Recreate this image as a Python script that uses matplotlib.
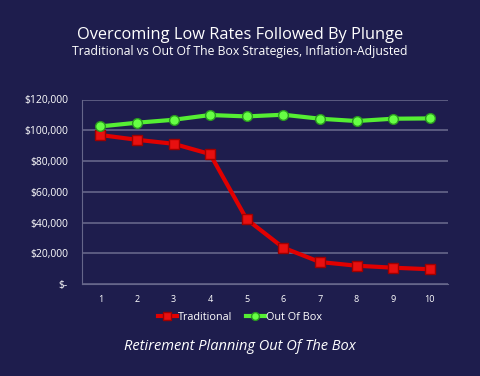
import matplotlib.pyplot as plt
from matplotlib.ticker import FuncFormatter

years = [1, 2, 3, 4, 5, 6, 7, 8, 9, 10]
traditional = [96900, 93800, 91200, 84500, 42100, 23600, 14300, 11900, 10600, 9600]
out_of_box = [102500, 104900, 106800, 109900, 109000, 110100, 107500, 106000, 107500, 107700]

bg = '#1e1d4d'
plt.rcParams['font.family'] = ['Open Sans', 'DejaVu Sans']

fig = plt.figure(figsize=(4.8, 3.76), dpi=100, facecolor=bg)
ax = fig.add_axes([82 / 480, 1 - 284 / 376, (448 - 82) / 480, (284 - 99.5) / 376])
ax.set_facecolor(bg)

ax.plot(years, traditional, color='#e00000', lw=3, marker='s', ms=7,
        mfc='#e81010', mec='#a00000', mew=1, label='Traditional', zorder=3)
ax.plot(years, out_of_box, color='#55ee33', lw=3, marker='o', ms=7,
        mfc='#66ff44', mec='#2a9a20', mew=1, label='Out Of Box', zorder=3)

ax.set_xlim(0.5, 10.5)
ax.set_ylim(0, 120000)
ax.set_xticks(years)
ax.set_yticks(range(0, 120001, 20000))
ax.yaxis.set_major_formatter(FuncFormatter(lambda v, p: '$-' if v == 0 else f'${v:,.0f}'))
ax.grid(axis='y', color='#66668a', lw=1.2)
ax.set_axisbelow(True)
for s in ['top', 'right']:
    ax.spines[s].set_visible(False)
ax.spines['bottom'].set_color('#66668a')
ax.spines['left'].set_color('#66668a')
ax.tick_params(length=0, colors='white')
ax.tick_params(axis='y', labelsize=7.5, pad=10)
ax.tick_params(axis='x', labelsize=6.5, pad=8)

# legend centred on the figure, not the axes
fig.legend(loc='center', bbox_to_anchor=(0.5, 1 - 317 / 376), ncol=2, frameon=False,
           fontsize=7.8, handlelength=1.8, handletextpad=0.1, columnspacing=1.2,
           labelcolor='white', markerscale=0.8)

fig.text(0.5, 1 - 35 / 376, 'Overcoming Low Rates Followed By Plunge', ha='center', va='center',
         color='white', fontsize=11.8)
fig.text(0.5, 1 - 52 / 376, 'Traditional vs Out Of The Box Strategies, Inflation-Adjusted',
         ha='center', va='center', color='white', fontsize=8.8)
fig.text(0.5, 1 - 347 / 376, 'Retirement Planning Out Of The Box', ha='center', va='center',
         color='white', fontsize=10.5, style='italic')

fig.savefig('out.png', facecolor=bg)
